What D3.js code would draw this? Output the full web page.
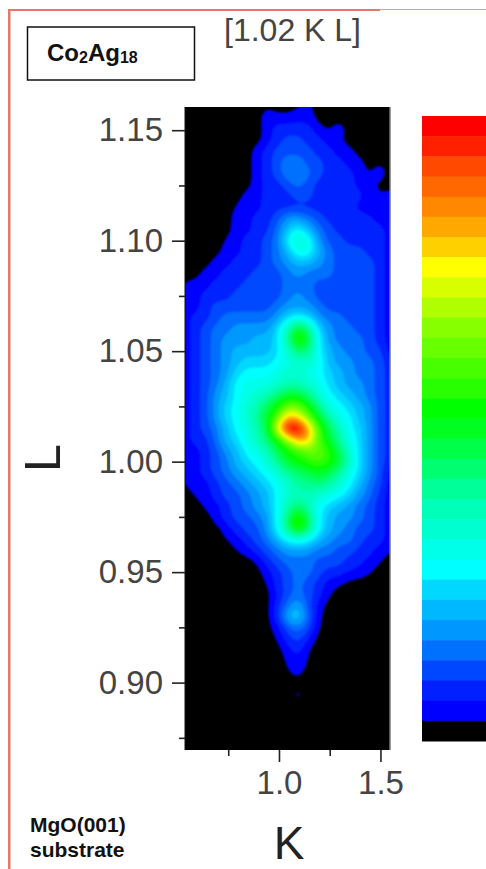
<!DOCTYPE html>
<html>
<head>
<meta charset="utf-8">
<script src="https://cdnjs.cloudflare.com/ajax/libs/d3/7.8.5/d3.min.js"></script>
<style>
  html, body { margin: 0; padding: 0; background: #fff; }
  svg { display: block; font-family: "Liberation Sans", Arial, sans-serif; }
</style>
</head>
<body>
<script>
// colour bands, level 30 (top of the bar) down to level 0
const levelColors = ['#ff0000', '#ff2000', '#ff4800', '#ff6800', '#ff8800', '#ffa800', '#ffd000', '#ffff00',
  '#d8ff00', '#b0ff00', '#88ff00', '#68ff00', '#48ff00', '#28ff00', '#00ff00', '#00ff20', '#00ff48', '#00ff70',
  '#00ff98', '#00ffb8', '#00ffd0', '#00ffe8', '#00ffff', '#00d8ff', '#00b8ff', '#0098ff', '#0070ff', '#0048ff',
  '#0020ff', '#0000ff', '#000000'];

const kRange = [0.537, 1.547];
const lRange = [1.1605, 0.8695];
const kMajor = [1.0, 1.5];
const kMinor = [0.75, 1.25];
const lMajor = [1.15, 1.10, 1.05, 1.00, 0.95, 0.90];
const lMinor = [1.125, 1.075, 1.025, 0.975, 0.925, 0.875];

// intensity level, 21 K columns, rows from L=1.16 down to 0.87
const intensity = [
  [0,0,0,0,0,0,0,0,0.5,0,0,0.5,0.9,0,0,0,0,0,0,0,0],
  [0,0,0,0,0,0,0,0,1.2,1,0.9,1.2,1.2,0,0,0,0,0,0,0,0],
  [0,0,0,0,0,0,0,0,1,2,2,2,2,1,0.2,1.4,0,0,0,0,0],
  [0,0,0,0,0,0,0,0,1,2,3,3,2,2,1,0.7,0,0,0,0,0],
  [0,0,0,0,0,0,0,1,2,3,3,3,3,2,2,1,1,0,0,0,0],
  [0,0,0,0,0,0,0,1,2,3,4.5,4.5,3,3,2,2,1,1,0,0.3,0],
  [0,0,0,0,0,0,0,1,2,3,4.5,4.5,4,3,2,2,2,1,0.3,1.5,0],
  [0,0,0,0,0,0,0,1,2,2,3,4,3,2,2,2,2,1,1,0,0],
  [0,0,0,0,0,0,1,1,2,2,2,3,3,2,2,2,2,2,1,0.7,1],
  [0,0,0,0,0,0.6,1,1,2,2,2,2,2,2,2,2,2,1,0.8,0,1],
  [0,0,0,0,0,1,1,2,2,3,5,5,4,3,2,2,2,2,2,0.8,1],
  [0,0,0,0,0,1,1,2,2,4,6,8,6,4,3,2,2,2,2,2,1],
  [0,0,0,0,0.6,1,2,2,3,4,8,11,9,5,3,3,2,2,2,2,1],
  [0,0,0,0,1,1,2,2,3,4,6,9,9,6,4,3,3,3,2,2,1],
  [0,0,0,1,1,2,2,2,3,4,5,6,6,5,4,3,3,3,3,2,1],
  [0,0,1,1,2,2,2,3,3,3,4,5,4,4,4,3,3,3,3,2,1],
  [0.6,1,1,2,2,2,3,3,3,3,4,4,4,3,3,3,3,3,3,2,1],
  [1,1,2,2,2,3,3,3,3,3,4,5,4,3,3,3,3,3,3,2,1],
  [1,1,2,3,3,3,3,3,3,4,5,5,5,4,3,3,3,3,3,2,1],
  [1,2,2,3,4,4,4,4,4,5,7,8,7,5,4,4,3,3,3,2,1],
  [1,2,3,4,4,5,5,5,5,7,11,16,13,7,5,4,4,3,3,2,1],
  [1,2,3,4,5,5,5,6,6,7,12,18,15,8,5,4,4,4,3,2,1],
  [1,2,3,4,5,6,6,6,6,7,10,13,13,8,6,5,4,4,3,3,1],
  [1,2,3,4,5,6,7,7,7,8,9,10,10,9,6,5,5,4,4,3,2],
  [1,2,3,4,5,7,8,8,8,9,10,10,9,8,7,6,5,4,4,3,2],
  [1,2,3,4,6,8,9,9,9,10,11,11,10,9,7,6,5,5,4,3,2],
  [1,2,3,5,6,8,9,10,11,13,15,15,13,10,8,7,6,5,4,3,2],
  [1,2,3,5,7,8,10,11,14,16,19,19,16,13,9,8,7,6,5,3,2],
  [1,2,3,5,7,8,10,12,15,18,25,24,19,15,12,9,8,6,5,3,2],
  [1,2,3,4,6,8,9,11,14,23,32,32,26,18,14,11,8,7,5,3,2],
  [1,2,2,4,6,7,9,11,13,16,20,26,25,18,15,12,9,7,5,3,2],
  [1,1,2,3,5,6,8,9,11,14,16,17,19,19,17,14,10,7,5,3,2],
  [0.6,1,2,3,4,6,7,8,10,12,15,16,17,18,17,15,11,7,5,3,2],
  [0.6,1,2,3,4,5,6,7,8,10,12,13,14,15,14,12,9,7,5,3,1],
  [0.6,1,1,2,3,4,5,6,7,8,10,12,12,13,12,10,8,6,4,3,1],
  [0,0.6,1,2,3,3,4,5,6,8,10,11,11,10,9,8,7,5,4,2,1],
  [0,0,0.7,1,2,3,4,5,6,8,11,13,11,8,7,6,5,4,3,2,1],
  [0,0,0,1,2,3,3,4,5,8,13,18,14,8,6,5,5,4,3,2,1],
  [0,0,0,0,1,2,3,3,5,8,13,18,14,8,6,5,4,3,3,2,1],
  [0,0,0,0,0.4,1,2,3,4,6,8,9,8,6,5,4,4,3,2,2,1],
  [0,0,0,0,0,0.4,1,2,3,4,5,5,5,4,4,3,3,2,2,1,0.6],
  [0,0,0,0,0,0,0,0.4,2,3,4,4,4,3,3,3,2,2,1,0.6,0],
  [0,0,0,0,0,0,0,0,1,2,3,4,4,3,2,2,1.5,1,0.6,0,0],
  [0,0,0,0,0,0,0,0,0.4,2,3,4,3,2,1,0.6,0,0,0,0,0],
  [0,0,0,0,0,0,0,0,0,1.5,3,4,3,2,0.6,0,0,0,0,0,0],
  [0,0,0,0,0,0,0,0,0,2,4,6,3,1,0,0,0,0,0,0,0],
  [0,0,0,0,0,0,0,0,0,2,6,7,4,0.6,0,0,0,0,0,0,0],
  [0,0,0,0,0,0,0,0,0,1,3,4,3,0.4,0,0,0,0,0,0,0],
  [0,0,0,0,0,0,0,0,0,0.4,2,3,1.5,0,0,0,0,0,0,0,0],
  [0,0,0,0,0,0,0,0,0,0,1,2,0.4,0,0,0,0,0,0,0,0],
  [0,0,0,0,0,0,0,0,0,0,0.6,1.5,0.3,0,0,0,0,0,0,0,0],
  [0,0,0,0,0,0,0,0,0,0,0.3,1,0,0,0,0,0,0,0,0,0],
  [0,0,0,0,0,0,0,0,0,0,0,0,0,0,0,0,0,0,0,0,0],
  [0,0,0,0,0,0,0,0,0,0,0,1.2,0,0,0,0,0,0,0,0,0],
  [0,0,0,0,0,0,0,0,0,0,0,0,0,0,0,0,0,0,0,0,0],
  [0,0,0,0,0,0,0,0,0,0,0,0,0,0,0,0,0,0,0,0,0],
  [0,0,0,0,0,0,0,0,0,0,0,0,0,0,0,0,0,0,0,0,0],
  [0,0,0,0,0,0,0,0,0,0,0,0,0,0,0,0,0,0,0,0,0],
  [0,0,0,0,0,0,0,0,0,0,0,0,0,0,0,0,0,0,0,0,0]
];

const width = 486, height = 869;
const plot = { left: 185, right: 390, top: 107, bottom: 750 };

const svg = d3.select("body").append("svg")
  .attr("width", width)
  .attr("height", height);

const x = d3.scaleLinear().domain(kRange).range([plot.left, plot.right]);
const y = d3.scaleLinear().domain(lRange).range([plot.top, plot.bottom]);

// spline through the read levels so the contour edges are not angular
const fine = 3;
const nCols = (intensity[0].length - 1) * fine + 1;
const nRows = (intensity.length - 1) * fine + 1;
const byCol = intensity.map(row => {
  const f = d3.interpolateBasis(row);
  return d3.range(nCols).map(i => f(i / (nCols - 1)));
});
const fineGrid = new Array(nCols * nRows);
d3.range(nCols).forEach(c => {
  const f = d3.interpolateBasis(byCol.map(row => row[c]));
  d3.range(nRows).forEach(r => { fineGrid[r * nCols + c] = f(r / (nRows - 1)); });
});

// grid index -> data value
const colToK = d3.scaleLinear().domain([0.5, nCols - 0.5]).range(kRange);
const rowToL = d3.scaleLinear().domain([0.5, nRows - 0.5]).range(lRange);

const defs = svg.append("defs");
defs.append("clipPath").attr("id", "plot-clip").append("rect")
  .attr("x", plot.left).attr("y", plot.top)
  .attr("width", plot.right - plot.left).attr("height", plot.bottom - plot.top);
defs.append("filter").attr("id", "soft")
  .attr("x", "-5%").attr("y", "-5%").attr("width", "110%").attr("height", "110%")
  .append("feGaussianBlur").attr("stdDeviation", 1.1);

// red page border
svg.append("rect").attr("x", 8).attr("y", 9).attr("width", 372).attr("height", 2).attr("fill", "#e8766a");
svg.append("rect").attr("x", 380).attr("y", 9).attr("width", 106).attr("height", 1).attr("fill", "#f09a90");
svg.append("rect").attr("x", 8).attr("y", 9).attr("width", 2.5).attr("height", height - 9).attr("fill", "#e8766a");

// heat map
const levels = d3.range(1, levelColors.length);
const contours = d3.contours()
  .size([nCols, nRows])
  .thresholds(levels.map(d => d - 0.5))(fineGrid);

const path = d3.geoPath(d3.geoTransform({
  point: function (px, py) {
    this.stream.point(x(colToK(px)), y(rowToL(py)));
  }
}));

const map = svg.append("g").attr("clip-path", "url(#plot-clip)");
map.append("rect")
  .attr("x", plot.left).attr("y", plot.top)
  .attr("width", plot.right - plot.left).attr("height", plot.bottom - plot.top)
  .attr("fill", "#000");
map.append("g").attr("filter", "url(#soft)")
  .selectAll("path")
  .data(contours)
  .enter().append("path")
  .attr("d", path)
  .attr("fill", (d, i) => levelColors[levelColors.length - 2 - i]);

svg.append("line").attr("x1", plot.right).attr("x2", plot.right)
  .attr("y1", plot.top).attr("y2", plot.bottom)
  .attr("stroke", "#777").attr("stroke-width", 1.5);
svg.append("line").attr("x1", plot.left).attr("x2", plot.left)
  .attr("y1", plot.top).attr("y2", plot.bottom)
  .attr("stroke", "#111").attr("stroke-width", 1);

// colour bar
const barY = d3.scaleBand().domain(d3.range(levelColors.length)).range([116, 741]);
svg.append("g").selectAll("rect")
  .data(levelColors)
  .enter().append("rect")
  .attr("x", 422)
  .attr("y", (d, i) => barY(i))
  .attr("width", width - 422)
  .attr("height", barY.bandwidth() + 0.5)
  .attr("fill", d => d);

// axes
function styleAxis(g, size) {
  g.select(".domain").remove();
  g.selectAll(".tick line").attr("stroke", "#222").attr("stroke-width", 1.6);
  g.selectAll(".tick text").attr("font-size", size).attr("fill", "#444")
    .attr("font-family", '"Liberation Sans", Arial, sans-serif');
}

svg.append("g").attr("transform", `translate(${plot.left},0)`)
  .call(d3.axisLeft(y).tickValues(lMajor).tickSize(13).tickPadding(9).tickFormat(d3.format(".2f")))
  .call(g => styleAxis(g, 33));
svg.append("g").attr("transform", `translate(${plot.left},0)`)
  .call(d3.axisLeft(y).tickValues(lMinor).tickSize(6).tickFormat(""))
  .call(g => styleAxis(g, 33));
svg.append("g").attr("transform", `translate(0,${plot.bottom})`)
  .call(d3.axisBottom(x).tickValues(kMajor).tickSize(12).tickPadding(9).tickFormat(d3.format(".1f")))
  .call(g => styleAxis(g, 33));
svg.append("g").attr("transform", `translate(0,${plot.bottom})`)
  .call(d3.axisBottom(x).tickValues(kMinor).tickSize(6).tickFormat(""))
  .call(g => styleAxis(g, 33));

// axis titles
svg.append("text").attr("x", 289).attr("y", 859)
  .attr("text-anchor", "middle").attr("font-size", 46).attr("fill", "#222").text("K");
svg.append("text").attr("transform", "translate(60,472) rotate(-90)")
  .attr("font-size", 50).attr("fill", "#222").text("L");

// header
svg.append("text").attr("x", 224).attr("y", 41)
  .attr("font-size", 32).attr("fill", "#444").text("[1.02 K L]");

svg.append("rect").attr("x", 27.5).attr("y", 27).attr("width", 167).attr("height", 53)
  .attr("fill", "#fff").attr("stroke", "#111").attr("stroke-width", 1.5);

const sample = svg.append("text").attr("x", 47).attr("y", 61)
  .attr("font-size", 24).attr("font-weight", "bold").attr("fill", "#111");
sample.append("tspan").text("Co");
sample.append("tspan").attr("font-size", 16).attr("dy", 2).text("2");
sample.append("tspan").attr("dy", -2).text("Ag");
sample.append("tspan").attr("font-size", 16).attr("dy", 2).text("18");

svg.append("text").attr("x", 30).attr("y", 832)
  .attr("font-size", 21).attr("font-weight", "bold").attr("fill", "#111").text("MgO(001)");
svg.append("text").attr("x", 30).attr("y", 857)
  .attr("font-size", 21).attr("font-weight", "bold").attr("fill", "#111").text("substrate");
</script>
</body>
</html>
